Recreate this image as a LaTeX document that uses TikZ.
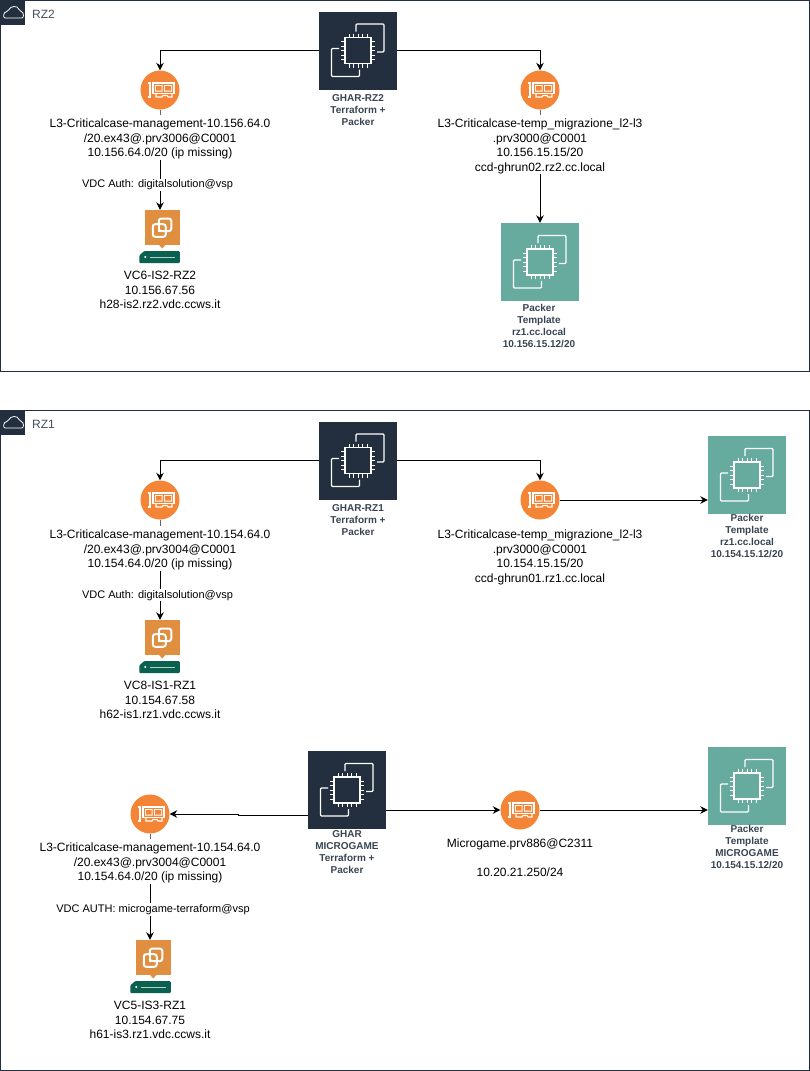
\documentclass[tikz,border=0pt]{standalone}
\usepackage{fontspec}
\setmainfont{Liberation Sans}
\usetikzlibrary{arrows.meta}
\definecolor{navy}{HTML}{232F3E}
\definecolor{packerteal}{HTML}{67AB9F}
\definecolor{nicorange}{HTML}{F58536}
\definecolor{vcorange}{HTML}{E08E3F}
\definecolor{hostgreen}{HTML}{0B6150}
\begin{document}
\begin{tikzpicture}[x=1pt,y=-1pt]
	\tikzset{frame/.style = {draw=navy,line width=1pt}}
	\tikzset{zonetitle/.style = {anchor=west,inner sep=0pt,text=navy!85,font=\fontsize{12}{14.5}\selectfont}}
	\tikzset{chipbox/.style = {minimum size=78pt,inner sep=0pt}}
	\tikzset{ghar/.style = {chipbox,fill=navy}}
	\tikzset{packer/.style = {chipbox,fill=packerteal}}
	\tikzset{nic/.style = {shape=circle,fill=nicorange,minimum size=39pt,inner sep=0pt}}
	\tikzset{vcenter/.style = {fill=vcorange,minimum width=34.5pt,minimum height=35pt,inner sep=0pt}}
	\tikzset{netlabel/.style = {anchor=north,align=center,inner sep=0pt,font=\fontsize{12}{14.5}\selectfont}}
	\tikzset{iconlabel/.style = {anchor=north,align=center,inner sep=0pt,text=navy!90,font=\fontsize{10}{12}\selectfont\bfseries}}
	\tikzset{authlabel/.style = {fill=white,inner sep=1pt,font=\fontsize{11}{13}\selectfont}}
	\tikzset{link/.style = {-{Stealth[length=7.5pt,width=7.5pt]},line width=1pt}}
	\tikzset{stub/.style = {draw=black!60,line width=1pt,shorten >=4pt}}
	\tikzset{chipglyph/.pic = {
		\draw[white,line width=1.2pt] (-13,-13) rectangle (13,13);
		\foreach \p in {-9,-4.5,0,4.5,9} {
			\draw[white,line width=1pt] (\p,-13) -- (\p,-17) (\p,13) -- (\p,17) (-13,\p) -- (-17,\p) (13,\p) -- (17,\p);
		}
		\draw[white,line width=1.2pt,rounded corners=1pt] (-2,-19) -- (-2,-26.5) -- (26,-26.5) -- (26,1.5) -- (19,1.5);
		\draw[white,line width=1.2pt,rounded corners=1pt] (-19,-2) -- (-26.5,-2) -- (-26.5,26) -- (1.5,26) -- (1.5,19);
	}}
	\tikzset{nicglyph/.pic = {
		\draw[white,line width=1.2pt] (-12.5,-7) -- (-10,-7) -- (-10,7) -- (-12.5,7);
		\draw[white,line width=1.2pt] (-7,-7) rectangle (14,3.5);
		\fill[white] (-5,-5) rectangle (2.5,1.5) (4,-5) rectangle (12,1.5);
		\fill[nicorange] (-4,-4) rectangle (1.5,.5) (5,-4) rectangle (11,.5);
		\draw[white,line width=1.2pt] (-4,3.5) -- (-4,7) -- (2,7) -- (3,5.5) -- (7,5.5) -- (8,7) -- (12,7) -- (12,3.5);
	}}
	\tikzset{vcglyph/.pic = {
		\fill[vcorange] (-3.5,17) -- (0,21) -- (3.5,17) -- cycle;
		\draw[white,line width=2pt,rounded corners=2.5pt] (-3.5,-9) rectangle (9,3.7);
		\draw[vcorange,line width=3.6pt] (-1,-3.3) -- (2,-3.3) (3.7,-2) -- (3.7,1.5);
		\draw[white,line width=2pt,rounded corners=2.5pt] (-9.5,-3.3) rectangle (3.5,9.3);
		\draw[vcorange,line width=3.6pt] (-3.5,-1.5) -- (-3.5,1.5);
		\draw[white,line width=2pt] (-3.5,-5) -- (-3.5,3.7) -- (1,3.7);
		\fill[hostgreen,rounded corners=1pt] (-23,35.5) -- (-23,28) -- (-18,23.5) -- (17.5,23.5) -- (17.5,35.5) -- cycle;
		\fill[white] (-17,29.5) circle (1.2);
		\draw[white!70!hostgreen,line width=.8pt] (-12,29.5) -- (13,29.5);
	}}
	% RZ2
	\draw[frame] (.5,.5) rectangle (809,371);
	\node[fill=navy,minimum size=25pt,inner sep=0pt] (rztwotag) at (12.5,12.5) {};
	\draw[white,line width=.8pt,rounded corners=2pt] (5,18) -- (20,18) .. controls (24,18) and (24,12) .. (19.5,11.5) .. controls (18,5) and (10,6) .. (8.5,11.5) .. controls (3,12) and (3,18) .. (5,18);
	\node[zonetitle] (rztwotitle) at (32,14) {RZ2};
	\node[ghar] (gharrztwo) at (358,50.5) {};
	\pic at (gharrztwo) {chipglyph};
	\node[iconlabel] (gharrztwolabel) at (358,94) {GHAR-RZ2\\Terraform +\\Packer};
	\node[nic] (nicmgmttwo) at (160,90) {};
	\pic at (nicmgmttwo) {nicglyph};
	\node[netlabel] (mgmttwolabel) at (160,119) {L3-Criticalcase-management-10.156.64.0\\/20.ex43@.prv3006@C0001\\10.156.64.0/20 (ip missing)};
	\node[vcenter] (vctwo) at (162.25,227.5) {};
	\pic at (vctwo) {vcglyph};
	\node[netlabel] (vctwolabel) at (160,271) {VC6-IS2-RZ2\\10.156.67.56\\h28-is2.rz2.vdc.ccws.it};
	\node[nic] (nictemptwo) at (540,90) {};
	\pic at (nictemptwo) {nicglyph};
	\node[netlabel] (temptwolabel) at (540,119) {L3-Criticalcase-temp\_migrazione\_l2-l3\\.prv3000@C0001\\10.156.15.15/20\\ccd-ghrun02.rz2.cc.local};
	\node[packer] (packertwo) at (540,262) {};
	\pic at (packertwo) {chipglyph};
	\node[iconlabel] (packertwolabel) at (539,304) {Packer\\Template\\rz1.cc.local\\10.156.15.12/20};
	\draw[link] (gharrztwo.west) -| (nicmgmttwo.north);
	\draw[link] (gharrztwo.east) -| (nictemptwo.north);
	\draw[stub] (nicmgmttwo.south) -- (mgmttwolabel.north);
	\draw[stub] (nictemptwo.south) -- (temptwolabel.north);
	\draw[link] (mgmttwolabel.south) -- node[authlabel,xshift=-2.5pt] (authtwo) {VDC Auth: digitalsolution@vsp} (mgmttwolabel.south |- vctwo.north);
	\draw[link] (temptwolabel.south) -- (packertwo.north);
	% RZ1
	\draw[frame] (.5,410) rectangle (809,1070.5);
	\node[fill=navy,minimum size=25pt,inner sep=0pt] (rzonetag) at (12.5,422.5) {};
	\draw[white,line width=.8pt,rounded corners=2pt] (5,428) -- (20,428) .. controls (24,428) and (24,422) .. (19.5,421.5) .. controls (18,415) and (10,416) .. (8.5,421.5) .. controls (3,422) and (3,428) .. (5,428);
	\node[zonetitle] (rzonetitle) at (32,424) {RZ1};
	\node[ghar] (gharrzone) at (358,460.5) {};
	\pic at (gharrzone) {chipglyph};
	\node[iconlabel] (gharrzonelabel) at (358,504) {GHAR-RZ1\\Terraform +\\Packer};
	\node[nic] (nicmgmtone) at (160,500) {};
	\pic at (nicmgmtone) {nicglyph};
	\node[netlabel] (mgmtonelabel) at (160,530) {L3-Criticalcase-management-10.154.64.0\\/20.ex43@.prv3004@C0001\\10.154.64.0/20 (ip missing)};
	\node[vcenter] (vcone) at (162.25,637.5) {};
	\pic at (vcone) {vcglyph};
	\node[netlabel] (vconelabel) at (160,681) {VC8-IS1-RZ1\\10.154.67.58\\h62-is1.rz1.vdc.ccws.it};
	\node[nic] (nictempone) at (540,500) {};
	\pic at (nictempone) {nicglyph};
	\node[netlabel] (temponelabel) at (540,530) {L3-Criticalcase-temp\_migrazione\_l2-l3\\.prv3000@C0001\\10.154.15.15/20\\ccd-ghrun01.rz1.cc.local};
	\node[packer] (packerone) at (747,475) {};
	\pic at (packerone) {chipglyph};
	\node[iconlabel] (packeronelabel) at (747,514.5) {Packer\\Template\\rz1.cc.local\\10.154.15.12/20};
	\draw[link] (gharrzone.west) -| (nicmgmtone.north);
	\draw[link] (gharrzone.east) -| (nictempone.north);
	\draw[stub] (nicmgmtone.south) -- (mgmtonelabel.north);
	\draw[link] (mgmtonelabel.south) -- node[authlabel,xshift=-2.5pt] (authone) {VDC Auth: digitalsolution@vsp} (mgmtonelabel.south |- vcone.north);
	\draw[link] (nictempone.east) -- (packerone.west |- nictempone.east);
	% MICROGAME
	\node[ghar] (gharmg) at (347,790) {};
	\pic at (gharmg) {chipglyph};
	\node[iconlabel] (gharmglabel) at (347,830.5) {GHAR\\MICROGAME\\Terraform +\\Packer};
	\node[nic] (nicmgmtmg) at (150,814) {};
	\pic at (nicmgmtmg) {nicglyph};
	\node[netlabel] (mgmtmglabel) at (150,843) {L3-Criticalcase-management-10.154.64.0\\/20.ex43@.prv3004@C0001\\10.154.64.0/20 (ip missing)};
	\node[vcenter] (vcmg) at (153.25,957.5) {};
	\pic at (vcmg) {vcglyph};
	\node[netlabel] (vcmglabel) at (150,1001) {VC5-IS3-RZ1\\10.154.67.75\\h61-is3.rz1.vdc.ccws.it};
	\node[nic] (nicmg) at (520,810) {};
	\pic at (nicmg) {nicglyph};
	\node[netlabel] (nicmglabel) at (520,839) {Microgame.prv886@C2311\\[14.5pt]10.20.21.250/24};
	\node[packer] (packermg) at (747,786) {};
	\pic at (packermg) {chipglyph};
	\node[iconlabel] (packermglabel) at (747,825.5) {Packer\\Template\\MICROGAME\\10.154.15.12/20};
	\draw[link] (gharmg.west |- 0,815.5) -- (238,815.5) -- (238,814) -- (nicmgmtmg.east);
	\draw[stub] (nicmgmtmg.south) -- (mgmtmglabel.north);
	\draw[link] (mgmtmglabel.south) -- node[authlabel,xshift=3pt,pos=.46] (authmg) {VDC AUTH: microgame-terraform@vsp} (mgmtmglabel.south |- vcmg.north);
	\draw[link] (gharmg.east |- nicmg.west) -- (nicmg.west);
	\draw[link] (nicmg.east) -- (packermg.west |- nicmg.east);
\end{tikzpicture}
\end{document}
